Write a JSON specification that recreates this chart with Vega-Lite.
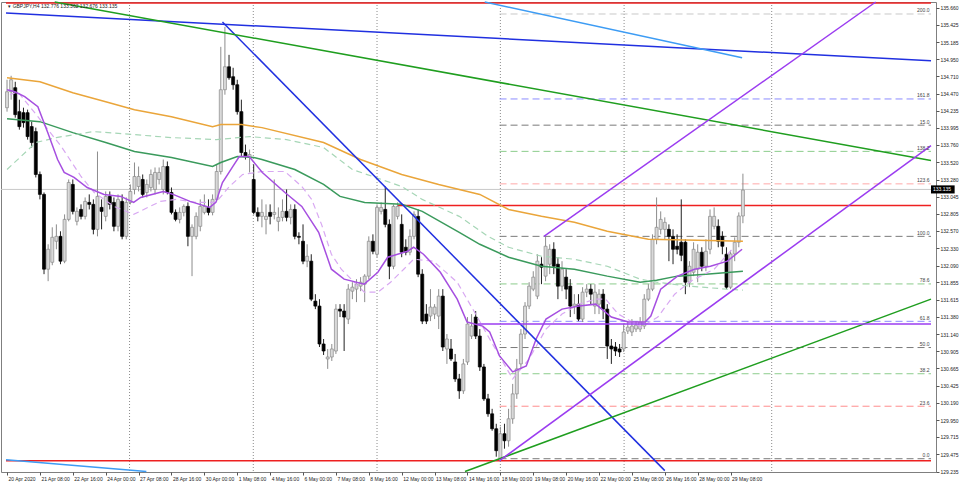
{
"$schema": "https://vega.github.io/schema/vega-lite/v6.json",
"width": 935, "height": 470,
"autosize": {"type": "none"},
"padding": {"left": 1, "top": 2, "right": 24, "bottom": 12},
"background": "white",
"config": {"view": {"stroke": "#7f7f7f", "strokeWidth": 1}, "text": {"font": "Liberation Sans"},
  "axis": {"labelFont": "Liberation Sans", "labelFontSize": 5, "labelColor": "#222", "tickColor": "#555", "tickSize": 3, "domain": false, "grid": false, "labelOverlap": false, "labelFlush": false, "titleFontSize": 0}},
"datasets": {
"grid": [{"i":29.8},{"i":59.9},{"i":90.0},{"i":120.0},{"i":150.1},{"i":186.0}],
"fib": [
{"lvl":"0.0","p":129.414,"i0":119.8,"i1":224.75},
{"lvl":"23.6","p":130.141,"i0":119.8,"i1":224.75},
{"lvl":"38.2","p":130.591,"i0":119.8,"i1":224.75},
{"lvl":"50.0","p":130.954,"i0":119.8,"i1":224.75},
{"lvl":"61.8","p":131.317,"i0":119.8,"i1":224.75},
{"lvl":"78.6","p":131.835,"i0":119.8,"i1":224.75},
{"lvl":"100.0","p":132.494,"i0":119.8,"i1":224.75},
{"lvl":"123.6","p":133.221,"i0":119.8,"i1":224.75},
{"lvl":"138.2","p":133.671,"i0":119.8,"i1":224.75},
{"lvl":"15.0","p":134.034,"i0":119.8,"i1":224.75},
{"lvl":"161.8","p":134.397,"i0":119.8,"i1":224.75},
{"lvl":"200.0","p":135.574,"i0":119.8,"i1":224.75}],
"red": [{"p":135.727,"i0":-0.25,"i1":224.75},{"p":132.923,"i0":95.0,"i1":224.75},{"p":129.387,"i0":-0.25,"i1":224.75}],
"last": [{"p":133.144,"lbl":"133.135"}],
"head": [{"t":"▾ GBPJPY,H4  132.776 133.362 132.676 133.135"}],
"candles": [
{"i":0,"o":134.276,"h":134.663,"l":134.221,"c":134.497},
{"i":1,"o":134.497,"h":134.718,"l":134.387,"c":134.663},
{"i":2,"o":134.553,"h":134.635,"l":134.138,"c":134.180},
{"i":3,"o":134.221,"h":134.387,"l":133.972,"c":134.014},
{"i":4,"o":134.207,"h":134.276,"l":134.000,"c":134.069},
{"i":5,"o":134.207,"h":134.249,"l":133.834,"c":133.876},
{"i":6,"o":134.014,"h":134.083,"l":133.724,"c":133.793},
{"i":7,"o":133.945,"h":134.000,"l":133.310,"c":133.351},
{"i":8,"o":133.351,"h":133.392,"l":133.006,"c":133.075},
{"i":9,"o":133.075,"h":133.102,"l":131.970,"c":132.039},
{"i":10,"o":132.039,"h":132.384,"l":131.873,"c":132.315},
{"i":11,"o":132.135,"h":132.619,"l":132.094,"c":132.481},
{"i":12,"o":132.426,"h":132.660,"l":132.315,"c":132.494},
{"i":13,"o":132.494,"h":132.564,"l":132.108,"c":132.150},
{"i":14,"o":132.150,"h":132.798,"l":132.122,"c":132.729},
{"i":15,"o":132.729,"h":133.282,"l":132.702,"c":133.240},
{"i":16,"o":133.213,"h":133.282,"l":132.798,"c":132.840},
{"i":17,"o":132.702,"h":132.895,"l":132.646,"c":132.840},
{"i":18,"o":132.867,"h":132.937,"l":132.729,"c":132.771},
{"i":19,"o":132.771,"h":133.033,"l":132.729,"c":132.978},
{"i":20,"o":132.964,"h":133.075,"l":132.867,"c":132.937},
{"i":21,"o":132.937,"h":133.006,"l":132.522,"c":132.591},
{"i":22,"o":132.591,"h":133.669,"l":132.494,"c":133.047},
{"i":23,"o":132.895,"h":133.006,"l":132.591,"c":132.840},
{"i":24,"o":132.771,"h":133.116,"l":132.702,"c":133.047},
{"i":25,"o":133.047,"h":133.116,"l":132.867,"c":132.937},
{"i":26,"o":132.964,"h":133.033,"l":132.564,"c":132.633},
{"i":27,"o":132.633,"h":133.075,"l":132.564,"c":133.006},
{"i":28,"o":132.978,"h":133.075,"l":132.453,"c":132.494},
{"i":29,"o":132.494,"h":133.033,"l":132.453,"c":132.964},
{"i":30,"o":132.964,"h":133.213,"l":132.937,"c":133.116},
{"i":31,"o":133.144,"h":133.517,"l":133.075,"c":133.323},
{"i":32,"o":133.185,"h":133.461,"l":133.116,"c":133.323},
{"i":33,"o":133.282,"h":133.351,"l":133.033,"c":133.075},
{"i":34,"o":133.102,"h":133.282,"l":133.033,"c":133.213},
{"i":35,"o":133.171,"h":133.420,"l":133.116,"c":133.351},
{"i":36,"o":133.144,"h":133.448,"l":133.075,"c":133.379},
{"i":37,"o":133.282,"h":133.448,"l":133.213,"c":133.379},
{"i":38,"o":133.144,"h":133.558,"l":133.075,"c":133.461},
{"i":39,"o":133.461,"h":133.531,"l":133.075,"c":133.102},
{"i":40,"o":133.102,"h":133.171,"l":132.798,"c":132.826},
{"i":41,"o":132.826,"h":132.867,"l":132.702,"c":132.729},
{"i":42,"o":132.729,"h":132.895,"l":132.674,"c":132.826},
{"i":43,"o":132.826,"h":132.937,"l":132.771,"c":132.909},
{"i":44,"o":132.909,"h":132.964,"l":132.357,"c":132.494},
{"i":45,"o":132.494,"h":132.660,"l":131.943,"c":132.619},
{"i":46,"o":132.494,"h":132.826,"l":132.453,"c":132.771},
{"i":47,"o":132.633,"h":133.006,"l":132.564,"c":132.909},
{"i":48,"o":132.826,"h":133.075,"l":132.798,"c":132.909},
{"i":49,"o":132.895,"h":133.006,"l":132.785,"c":132.826},
{"i":50,"o":132.826,"h":133.075,"l":132.785,"c":133.006},
{"i":51,"o":133.006,"h":133.489,"l":132.978,"c":133.392},
{"i":52,"o":133.392,"h":135.119,"l":133.351,"c":134.525},
{"i":53,"o":134.525,"h":135.395,"l":134.456,"c":134.843},
{"i":54,"o":134.843,"h":135.008,"l":134.663,"c":134.691},
{"i":55,"o":134.705,"h":134.829,"l":134.525,"c":134.594},
{"i":56,"o":134.594,"h":134.663,"l":134.180,"c":134.221},
{"i":57,"o":134.221,"h":134.387,"l":133.600,"c":133.655},
{"i":58,"o":133.655,"h":133.765,"l":133.558,"c":133.600},
{"i":59,"o":133.586,"h":133.696,"l":133.379,"c":133.627},
{"i":60,"o":133.282,"h":133.489,"l":132.798,"c":132.826},
{"i":61,"o":132.826,"h":132.895,"l":132.702,"c":132.771},
{"i":62,"o":132.771,"h":133.006,"l":132.619,"c":132.826},
{"i":63,"o":132.729,"h":132.937,"l":132.522,"c":132.771},
{"i":64,"o":132.826,"h":132.937,"l":132.660,"c":132.771},
{"i":65,"o":132.798,"h":133.282,"l":132.729,"c":132.826},
{"i":66,"o":132.702,"h":132.895,"l":132.564,"c":132.757},
{"i":67,"o":132.757,"h":133.006,"l":132.702,"c":132.840},
{"i":68,"o":132.840,"h":133.144,"l":132.702,"c":132.757},
{"i":69,"o":132.757,"h":132.937,"l":132.660,"c":132.867},
{"i":70,"o":132.867,"h":132.937,"l":132.453,"c":132.494},
{"i":71,"o":132.494,"h":132.550,"l":132.384,"c":132.481},
{"i":72,"o":132.426,"h":132.660,"l":132.108,"c":132.150},
{"i":73,"o":132.150,"h":132.384,"l":132.067,"c":132.218},
{"i":74,"o":132.150,"h":132.246,"l":131.597,"c":131.624},
{"i":75,"o":131.597,"h":131.693,"l":131.486,"c":131.528},
{"i":76,"o":131.528,"h":131.624,"l":130.961,"c":131.003},
{"i":77,"o":131.003,"h":131.072,"l":130.851,"c":130.906},
{"i":78,"o":130.796,"h":130.934,"l":130.658,"c":130.823},
{"i":79,"o":130.823,"h":131.003,"l":130.768,"c":130.934},
{"i":80,"o":130.906,"h":131.555,"l":130.865,"c":131.486},
{"i":81,"o":131.486,"h":131.555,"l":131.376,"c":131.459},
{"i":82,"o":131.459,"h":131.555,"l":130.906,"c":131.376},
{"i":83,"o":131.348,"h":131.832,"l":131.279,"c":131.763},
{"i":84,"o":131.735,"h":131.859,"l":131.624,"c":131.790},
{"i":85,"o":131.763,"h":131.901,"l":131.583,"c":131.832},
{"i":86,"o":131.804,"h":131.929,"l":131.735,"c":131.859},
{"i":87,"o":131.832,"h":131.970,"l":131.583,"c":131.943},
{"i":88,"o":131.943,"h":132.494,"l":131.901,"c":132.426},
{"i":89,"o":132.426,"h":132.522,"l":132.246,"c":132.287},
{"i":90,"o":132.246,"h":132.937,"l":132.205,"c":132.895},
{"i":91,"o":132.840,"h":132.964,"l":132.798,"c":132.895},
{"i":92,"o":132.867,"h":133.185,"l":132.619,"c":132.660},
{"i":93,"o":132.660,"h":132.729,"l":131.901,"c":132.080},
{"i":94,"o":132.080,"h":132.937,"l":132.039,"c":132.909},
{"i":95,"o":132.771,"h":132.964,"l":132.729,"c":132.909},
{"i":96,"o":132.660,"h":132.798,"l":132.205,"c":132.274},
{"i":97,"o":132.343,"h":132.453,"l":132.232,"c":132.274},
{"i":98,"o":132.274,"h":132.591,"l":132.232,"c":132.494},
{"i":99,"o":132.494,"h":132.840,"l":132.453,"c":132.798},
{"i":100,"o":132.771,"h":132.867,"l":131.929,"c":131.970},
{"i":101,"o":131.970,"h":132.039,"l":131.279,"c":131.320},
{"i":102,"o":131.417,"h":131.555,"l":131.279,"c":131.320},
{"i":103,"o":131.390,"h":131.763,"l":131.320,"c":131.514},
{"i":104,"o":131.417,"h":131.555,"l":131.348,"c":131.514},
{"i":105,"o":131.390,"h":131.763,"l":131.210,"c":131.666},
{"i":106,"o":131.666,"h":131.763,"l":130.906,"c":130.961},
{"i":107,"o":130.934,"h":131.141,"l":130.727,"c":131.072},
{"i":108,"o":130.934,"h":131.072,"l":130.768,"c":130.796},
{"i":109,"o":130.754,"h":130.865,"l":130.478,"c":130.519},
{"i":110,"o":130.519,"h":130.589,"l":130.243,"c":130.354},
{"i":111,"o":130.354,"h":130.796,"l":130.312,"c":130.727},
{"i":112,"o":130.754,"h":131.376,"l":130.713,"c":131.279},
{"i":113,"o":131.113,"h":131.417,"l":131.072,"c":131.251},
{"i":114,"o":131.376,"h":131.459,"l":131.072,"c":131.113},
{"i":115,"o":131.113,"h":131.210,"l":130.630,"c":130.685},
{"i":116,"o":130.685,"h":130.727,"l":130.215,"c":130.243},
{"i":117,"o":130.243,"h":130.312,"l":129.995,"c":130.036},
{"i":118,"o":130.036,"h":130.105,"l":129.801,"c":129.829},
{"i":119,"o":129.829,"h":129.898,"l":129.442,"c":129.525},
{"i":120,"o":129.414,"h":129.857,"l":129.373,"c":129.760},
{"i":121,"o":129.760,"h":129.898,"l":129.553,"c":129.663},
{"i":122,"o":129.663,"h":130.105,"l":129.581,"c":129.967},
{"i":123,"o":129.967,"h":130.450,"l":129.898,"c":130.312},
{"i":124,"o":130.312,"h":130.796,"l":130.243,"c":130.658},
{"i":125,"o":130.727,"h":131.210,"l":130.658,"c":131.141},
{"i":126,"o":131.141,"h":131.583,"l":131.072,"c":131.528},
{"i":127,"o":131.528,"h":131.859,"l":131.486,"c":131.804},
{"i":128,"o":131.763,"h":132.011,"l":131.735,"c":131.929},
{"i":129,"o":131.666,"h":132.246,"l":131.624,"c":132.150},
{"i":130,"o":132.108,"h":132.205,"l":131.832,"c":132.067},
{"i":131,"o":131.943,"h":132.494,"l":131.873,"c":132.357},
{"i":132,"o":132.108,"h":132.384,"l":131.970,"c":132.315},
{"i":133,"o":132.315,"h":132.412,"l":131.970,"c":132.080},
{"i":134,"o":132.108,"h":132.205,"l":131.624,"c":131.804},
{"i":135,"o":131.804,"h":132.150,"l":131.735,"c":132.039},
{"i":136,"o":131.929,"h":132.039,"l":131.624,"c":131.763},
{"i":137,"o":131.804,"h":131.901,"l":131.376,"c":131.528},
{"i":138,"o":131.528,"h":131.693,"l":131.417,"c":131.555},
{"i":139,"o":131.555,"h":131.693,"l":131.320,"c":131.348},
{"i":140,"o":131.348,"h":131.790,"l":131.307,"c":131.721},
{"i":141,"o":131.721,"h":131.832,"l":131.652,"c":131.763},
{"i":142,"o":131.763,"h":131.832,"l":131.555,"c":131.693},
{"i":143,"o":131.528,"h":131.832,"l":131.417,"c":131.721},
{"i":144,"o":131.555,"h":131.763,"l":131.417,"c":131.693},
{"i":145,"o":131.693,"h":131.763,"l":131.348,"c":131.486},
{"i":146,"o":131.486,"h":131.555,"l":130.796,"c":130.975},
{"i":147,"o":130.975,"h":131.072,"l":130.727,"c":130.934},
{"i":148,"o":130.961,"h":131.030,"l":130.837,"c":130.906},
{"i":149,"o":130.934,"h":131.003,"l":130.823,"c":130.892},
{"i":150,"o":130.934,"h":131.279,"l":130.892,"c":131.169},
{"i":151,"o":131.182,"h":131.320,"l":131.141,"c":131.237},
{"i":152,"o":131.169,"h":131.348,"l":131.113,"c":131.251},
{"i":153,"o":131.210,"h":131.320,"l":131.169,"c":131.265},
{"i":154,"o":131.210,"h":131.376,"l":131.169,"c":131.307},
{"i":155,"o":131.251,"h":131.693,"l":131.210,"c":131.624},
{"i":156,"o":131.624,"h":131.832,"l":131.597,"c":131.763},
{"i":157,"o":131.763,"h":132.522,"l":131.735,"c":132.453},
{"i":158,"o":132.453,"h":133.033,"l":132.384,"c":132.619},
{"i":159,"o":132.591,"h":132.840,"l":132.522,"c":132.729},
{"i":160,"o":132.591,"h":132.757,"l":132.453,"c":132.688},
{"i":161,"o":132.591,"h":132.660,"l":132.150,"c":132.494},
{"i":162,"o":132.494,"h":132.591,"l":132.108,"c":132.315},
{"i":163,"o":132.357,"h":132.522,"l":132.246,"c":132.315},
{"i":164,"o":132.412,"h":133.006,"l":132.150,"c":132.232},
{"i":165,"o":132.412,"h":132.453,"l":131.693,"c":131.859},
{"i":166,"o":131.859,"h":132.150,"l":131.790,"c":132.080},
{"i":167,"o":131.997,"h":132.412,"l":131.943,"c":132.315},
{"i":168,"o":132.039,"h":132.384,"l":131.859,"c":132.274},
{"i":169,"o":132.274,"h":132.343,"l":132.011,"c":132.080},
{"i":170,"o":132.080,"h":132.453,"l":132.011,"c":132.287},
{"i":171,"o":132.315,"h":132.867,"l":132.246,"c":132.771},
{"i":172,"o":132.633,"h":132.895,"l":132.591,"c":132.771},
{"i":173,"o":132.633,"h":132.729,"l":132.343,"c":132.426},
{"i":174,"o":132.494,"h":132.564,"l":132.246,"c":132.357},
{"i":175,"o":132.246,"h":132.343,"l":131.763,"c":131.790},
{"i":176,"o":131.790,"h":132.300,"l":131.763,"c":132.250},
{"i":177,"o":132.250,"h":132.480,"l":132.150,"c":132.412},
{"i":178,"o":132.412,"h":132.826,"l":132.343,"c":132.776},
{"i":179,"o":132.776,"h":133.362,"l":132.676,"c":133.135}],
"maOrange": [{"i":0,"p":134.691},{"i":8,"p":134.635},{"i":16,"p":134.484},{"i":24,"p":134.359},{"i":31,"p":134.249},{"i":40,"p":134.152},{"i":50,"p":134.014},{"i":52,"p":134.042},{"i":57,"p":134.042},{"i":62,"p":134.000},{"i":77,"p":133.793},{"i":86,"p":133.558},{"i":96,"p":133.351},{"i":105,"p":133.213},{"i":115,"p":133.075},{"i":122,"p":132.867},{"i":130,"p":132.771},{"i":138,"p":132.688},{"i":146,"p":132.564},{"i":156,"p":132.453},{"i":168,"p":132.440},{"i":179,"p":132.426}],
"maGreen": [{"i":0,"p":134.124},{"i":8,"p":134.083},{"i":16,"p":133.931},{"i":24,"p":133.793},{"i":31,"p":133.669},{"i":40,"p":133.586},{"i":50,"p":133.461},{"i":52,"p":133.517},{"i":56,"p":133.600},{"i":60,"p":133.586},{"i":62,"p":133.558},{"i":70,"p":133.420},{"i":77,"p":133.213},{"i":81,"p":133.047},{"i":87,"p":132.964},{"i":96,"p":132.937},{"i":101,"p":132.840},{"i":110,"p":132.550},{"i":115,"p":132.384},{"i":122,"p":132.205},{"i":130,"p":132.080},{"i":138,"p":132.039},{"i":146,"p":131.943},{"i":154,"p":131.859},{"i":158,"p":131.887},{"i":163,"p":131.943},{"i":170,"p":131.970},{"i":179,"p":132.011}],
"maGreenDash": [{"i":0,"p":133.420},{"i":7,"p":133.793},{"i":12,"p":133.862},{"i":21,"p":133.945},{"i":31,"p":133.903},{"i":40,"p":133.862},{"i":51,"p":133.834},{"i":59,"p":133.876},{"i":68,"p":133.834},{"i":77,"p":133.724},{"i":84,"p":133.420},{"i":96,"p":133.185},{"i":101,"p":133.006},{"i":110,"p":132.771},{"i":117,"p":132.494},{"i":122,"p":132.343},{"i":130,"p":132.218},{"i":138,"p":132.177},{"i":146,"p":132.080},{"i":154,"p":131.901},{"i":158,"p":131.859},{"i":166,"p":131.804},{"i":175,"p":131.763},{"i":179,"p":131.749}],
"maPurple": [{"i":0,"p":134.525},{"i":1.9,"p":134.497},{"i":4.3,"p":134.429},{"i":7.5,"p":134.290},{"i":9.9,"p":133.931},{"i":12.3,"p":133.558},{"i":13.9,"p":133.379},{"i":16.3,"p":133.310},{"i":19.5,"p":133.171},{"i":23.6,"p":133.075},{"i":27.7,"p":133.047},{"i":30.8,"p":132.964},{"i":32.5,"p":133.033},{"i":38,"p":133.116},{"i":40.4,"p":133.075},{"i":44.5,"p":132.978},{"i":49.3,"p":132.895},{"i":50.8,"p":132.964},{"i":52.4,"p":133.240},{"i":54.9,"p":133.461},{"i":56.5,"p":133.600},{"i":58.9,"p":133.600},{"i":62.1,"p":133.379},{"i":67.6,"p":133.102},{"i":71.7,"p":132.909},{"i":75.8,"p":132.550},{"i":78.9,"p":132.039},{"i":82,"p":131.901},{"i":86.9,"p":131.832},{"i":90.2,"p":131.997},{"i":92.6,"p":132.205},{"i":97.4,"p":132.287},{"i":98.9,"p":132.343},{"i":101.3,"p":132.246},{"i":105.4,"p":131.997},{"i":109.5,"p":131.624},{"i":111.9,"p":131.307},{"i":115.7,"p":131.251},{"i":117.4,"p":131.169},{"i":119.8,"p":130.837},{"i":123,"p":130.616},{"i":126.3,"p":130.699},{"i":128.7,"p":131.072},{"i":131.1,"p":131.348},{"i":135,"p":131.486},{"i":139.1,"p":131.528},{"i":143.2,"p":131.555},{"i":147,"p":131.376},{"i":151.1,"p":131.307},{"i":155.2,"p":131.307},{"i":156.6,"p":131.390},{"i":159,"p":131.763},{"i":163.1,"p":131.943},{"i":167.2,"p":132.039},{"i":171.1,"p":132.080},{"i":175.2,"p":132.150},{"i":178.8,"p":132.315}],
"maPurpleDash": [{"i":0.7,"p":134.456},{"i":2.6,"p":134.497},{"i":7.5,"p":134.152},{"i":13.2,"p":133.738},{"i":18,"p":133.323},{"i":21.2,"p":133.102},{"i":26,"p":132.909},{"i":30.8,"p":132.798},{"i":37.3,"p":132.978},{"i":41.1,"p":133.006},{"i":45.9,"p":132.964},{"i":50.8,"p":132.964},{"i":54.1,"p":133.185},{"i":57.3,"p":133.351},{"i":62.1,"p":133.392},{"i":67.6,"p":133.392},{"i":71.7,"p":133.185},{"i":74.1,"p":133.006},{"i":76.5,"p":132.660},{"i":78.9,"p":132.246},{"i":81.3,"p":132.039},{"i":86.9,"p":131.721},{"i":90.2,"p":131.721},{"i":93.3,"p":131.859},{"i":96.5,"p":132.039},{"i":98.9,"p":132.177},{"i":103.7,"p":132.150},{"i":109.5,"p":131.859},{"i":113.3,"p":131.486},{"i":117.4,"p":131.072},{"i":123,"p":130.519},{"i":127,"p":130.796},{"i":131.1,"p":131.210},{"i":135,"p":131.417},{"i":139.1,"p":131.555},{"i":143.2,"p":131.624},{"i":145.6,"p":131.624},{"i":148.7,"p":131.417},{"i":154.2,"p":131.237},{"i":158.3,"p":131.376},{"i":162.4,"p":131.693},{"i":166.3,"p":131.873},{"i":172,"p":132.039},{"i":176.8,"p":132.343}],
"trend": [
{"name":"blueTop","i":-0.25,"p":135.588},{"name":"blueTop","i":224.75,"p":134.925},
{"name":"blueDown","i":52.4,"p":135.464},{"name":"blueDown","i":160.0,"p":129.249},
{"name":"lightBlueTop","i":116.2,"p":135.740},{"name":"lightBlueTop","i":178.8,"p":134.967},
{"name":"lightBlueBottom","i":-0.25,"p":129.401},{"name":"lightBlueBottom","i":33.9,"p":129.236},
{"name":"greenDown","i":11.6,"p":135.740},{"name":"greenDown","i":224.75,"p":133.544},
{"name":"greenUp","i":111.4,"p":129.236},{"name":"greenUp","i":224.75,"p":131.624},
{"name":"purpleUpper","i":130.6,"p":132.494},{"name":"purpleUpper","i":211.3,"p":135.740},
{"name":"purpleLower","i":119.8,"p":129.387},{"name":"purpleLower","i":224.75,"p":133.751},
{"name":"purpleHoriz","i":114.5,"p":131.279},{"name":"purpleHoriz","i":224.75,"p":131.279}]
},
"layer": [
{"data": {"name": "grid"}, "mark": {"type": "rule", "color": "#8c8c8c", "strokeDash": [1, 2], "strokeWidth": 1},
 "encoding": {"x": {"field": "i", "type": "quantitative", "scale": {"domain": [-0.25, 224.75], "nice": false, "zero": false},
   "axis": {"values": [0,8,16,24,32,40,48,56,64,72,80,88,96,104,112,120,128,136,144,152,160,168,176], "tickCount": 100,
     "labelExpr": "['20 Apr 2020','21 Apr 08:00','22 Apr 16:00','24 Apr 00:00','27 Apr 08:00','28 Apr 16:00','30 Apr 00:00','1 May 08:00','4 May 16:00','6 May 00:00','7 May 08:00','8 May 16:00','12 May 00:00','13 May 08:00','14 May 16:00','18 May 00:00','19 May 08:00','20 May 16:00','22 May 00:00','25 May 08:00','26 May 16:00','28 May 00:00','29 May 08:00'][round(datum.value/8)]",
     "orient": "bottom", "labelAlign": "left", "labelBaseline": "top", "labelFontSize": 5, "labelColor": "#222", "labelPadding": 1, "labelOffset": 1,
     "tickSize": 3, "tickColor": "#555", "domain": false, "grid": false, "title": null, "labelOverlap": false, "labelFlush": false}}}},
{"data": {"name": "fib"}, "mark": {"type": "rule", "strokeDash": [7, 4], "strokeWidth": 1},
 "encoding": {"x": {"field": "i0", "type": "quantitative", "scale": {"domain": [-0.25, 224.75], "nice": false, "zero": false}},
   "x2": {"field": "i1"},
   "y": {"field": "p", "type": "quantitative", "scale": {"domain": [129.23, 135.74], "nice": false, "zero": false},
     "axis": {"orient": "right", "tickCount": 100, "values": [135.66,135.425,135.185,134.95,134.71,134.47,134.235,133.995,133.76,133.52,133.28,133.045,132.805,132.57,132.33,132.09,131.855,131.615,131.38,131.14,130.905,130.665,130.425,130.19,129.95,129.715,129.475,129.235],
       "format": ".3f", "labelFontSize": 5, "labelColor": "#222", "labelPadding": 1, "labelAlign": "left", "labelBaseline": "middle", "tickSize": 3, "tickColor": "#555", "domain": false, "grid": false, "title": null, "labelOverlap": false, "labelFlush": false}},
   "color": {"field": "lvl", "type": "nominal", "legend": null,
     "scale": {"domain": ["0.0","23.6","38.2","50.0","61.8","78.6","100.0","123.6","138.2","15.0","161.8","200.0"],
       "range": ["#7a7a7a","#ff8c8c","#8ccc8c","#7a7a7a","#8c8cff","#8ccc8c","#7a7a7a","#ffa8a8","#8ccc8c","#7a7a7a","#8c8cff","#c8c8c8"]}}}},
{"data": {"name": "last"}, "mark": {"type": "rule", "color": "#c8c8c8", "strokeWidth": 1},
 "encoding": {"y": {"field": "p", "type": "quantitative", "scale": {"domain": [129.23, 135.74], "nice": false, "zero": false}}}},
{"data": {"name": "red"}, "mark": {"type": "rule", "color": "#ee2020", "strokeWidth": 1.5},
 "encoding": {"x": {"field": "i0", "type": "quantitative", "scale": {"domain": [-0.25, 224.75], "nice": false, "zero": false}},
   "x2": {"field": "i1"},
   "y": {"field": "p", "type": "quantitative", "scale": {"domain": [129.23, 135.74], "nice": false, "zero": false}}}},
{"data": {"name": "candles"}, "mark": {"type": "rule", "strokeWidth": 1},
 "encoding": {"x": {"field": "i", "type": "quantitative", "scale": {"domain": [-0.25, 224.75], "nice": false, "zero": false}},
   "y": {"field": "l", "type": "quantitative", "scale": {"domain": [129.23, 135.74], "nice": false, "zero": false}},
   "y2": {"field": "h"},
   "color": {"condition": {"test": "datum.c < datum.o", "value": "#222222"}, "value": "#8c8c8c"}}},
{"data": {"name": "candles"}, "mark": {"type": "bar", "width": 3, "strokeWidth": 0.7},
 "encoding": {"x": {"field": "i", "type": "quantitative", "scale": {"domain": [-0.25, 224.75], "nice": false, "zero": false}},
   "y": {"field": "o", "type": "quantitative", "scale": {"domain": [129.23, 135.74], "nice": false, "zero": false}},
   "y2": {"field": "c"},
   "fill": {"condition": {"test": "datum.c < datum.o", "value": "#000000"}, "value": "#d9d9d9"},
   "stroke": {"condition": {"test": "datum.c < datum.o", "value": "#000000"}, "value": "#8a8a8a"}}},
{"data": {"name": "maOrange"}, "mark": {"type": "line", "color": "#eaa53a", "strokeWidth": 1.5},
 "encoding": {"x": {"field": "i", "type": "quantitative", "scale": {"domain": [-0.25, 224.75], "nice": false, "zero": false}},
   "y": {"field": "p", "type": "quantitative", "scale": {"domain": [129.23, 135.74], "nice": false, "zero": false}}}},
{"data": {"name": "maGreen"}, "mark": {"type": "line", "color": "#3a9a5c", "strokeWidth": 1.5},
 "encoding": {"x": {"field": "i", "type": "quantitative", "scale": {"domain": [-0.25, 224.75], "nice": false, "zero": false}},
   "y": {"field": "p", "type": "quantitative", "scale": {"domain": [129.23, 135.74], "nice": false, "zero": false}}}},
{"data": {"name": "maGreenDash"}, "mark": {"type": "line", "color": "#a6d6b6", "strokeWidth": 1.2, "strokeDash": [6, 4]},
 "encoding": {"x": {"field": "i", "type": "quantitative", "scale": {"domain": [-0.25, 224.75], "nice": false, "zero": false}},
   "y": {"field": "p", "type": "quantitative", "scale": {"domain": [129.23, 135.74], "nice": false, "zero": false}}}},
{"data": {"name": "maPurpleDash"}, "mark": {"type": "line", "color": "#d8a8f2", "strokeWidth": 1.2, "strokeDash": [6, 4]},
 "encoding": {"x": {"field": "i", "type": "quantitative", "scale": {"domain": [-0.25, 224.75], "nice": false, "zero": false}},
   "y": {"field": "p", "type": "quantitative", "scale": {"domain": [129.23, 135.74], "nice": false, "zero": false}}}},
{"data": {"name": "maPurple"}, "mark": {"type": "line", "color": "#a64fe0", "strokeWidth": 1.5},
 "encoding": {"x": {"field": "i", "type": "quantitative", "scale": {"domain": [-0.25, 224.75], "nice": false, "zero": false}},
   "y": {"field": "p", "type": "quantitative", "scale": {"domain": [129.23, 135.74], "nice": false, "zero": false}}}},
{"data": {"name": "trend"}, "mark": {"type": "line", "strokeWidth": 1.5},
 "encoding": {"x": {"field": "i", "type": "quantitative", "scale": {"domain": [-0.25, 224.75], "nice": false, "zero": false}},
   "y": {"field": "p", "type": "quantitative", "scale": {"domain": [129.23, 135.74], "nice": false, "zero": false}},
   "color": {"field": "name", "type": "nominal", "legend": null,
     "scale": {"domain": ["blueTop","blueDown","lightBlueTop","lightBlueBottom","greenDown","greenUp","purpleUpper","purpleLower","purpleHoriz"],
       "range": ["#2030e0","#2030e0","#3d9cf4","#3d9cf4","#1f9e1f","#1f9e1f","#9b3cf0","#9b3cf0","#9b3cf0"]}}}},
{"data": {"name": "fib"}, "mark": {"type": "text", "align": "right", "baseline": "bottom", "fontSize": 5, "color": "#444", "dy": -0.5},
 "encoding": {"x": {"datum": 224.4, "type": "quantitative", "scale": {"domain": [-0.25, 224.75], "nice": false, "zero": false}},
   "y": {"field": "p", "type": "quantitative", "scale": {"domain": [129.23, 135.74], "nice": false, "zero": false}},
   "text": {"field": "lvl"}}},
{"data": {"name": "last"}, "mark": {"type": "rect", "color": "#000000"},
 "encoding": {"x": {"datum": 224.75, "type": "quantitative", "scale": {"domain": [-0.25, 224.75], "nice": false, "zero": false}},
   "x2": {"datum": 230.5},
   "y": {"datum": 133.2, "type": "quantitative", "scale": {"domain": [129.23, 135.74], "nice": false, "zero": false}},
   "y2": {"datum": 133.088}}},
{"data": {"name": "last"}, "mark": {"type": "text", "align": "left", "baseline": "middle", "fontSize": 5, "color": "#ffffff", "dx": 2},
 "encoding": {"x": {"datum": 224.75, "type": "quantitative", "scale": {"domain": [-0.25, 224.75], "nice": false, "zero": false}},
   "y": {"field": "p", "type": "quantitative", "scale": {"domain": [129.23, 135.74], "nice": false, "zero": false}},
   "text": {"field": "lbl"}}},
{"data": {"name": "head"}, "mark": {"type": "text", "align": "left", "baseline": "middle", "fontSize": 5, "color": "#222"},
 "encoding": {"x": {"datum": 0.3, "type": "quantitative", "scale": {"domain": [-0.25, 224.75], "nice": false, "zero": false}},
   "y": {"datum": 135.685, "type": "quantitative", "scale": {"domain": [129.23, 135.74], "nice": false, "zero": false}},
   "text": {"field": "t"}}}
],
"resolve": {"scale": {"color": "independent"}}
}
